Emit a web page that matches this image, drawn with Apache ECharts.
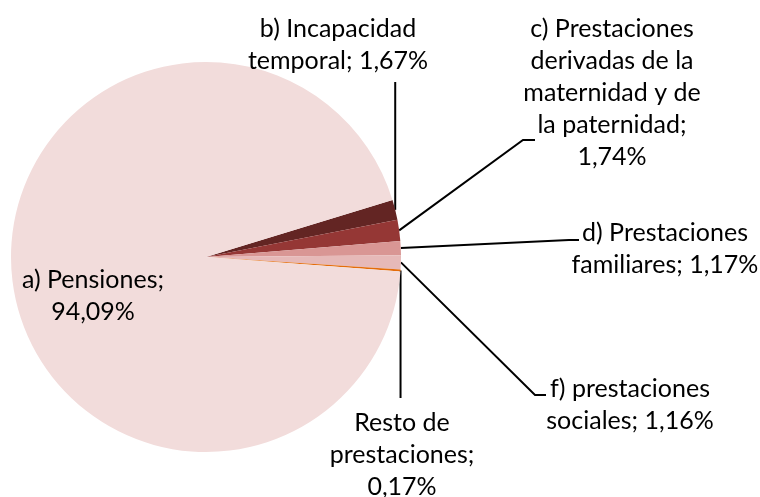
<!DOCTYPE html>
<html>
<head>
<meta charset="utf-8">
<script src="https://cdn.jsdelivr.net/npm/echarts@6/dist/echarts.min.js"></script>
<style>
  html, body { margin: 0; padding: 0; background: #fff; }
  #chart { width: 760px; height: 497px; }
</style>
</head>
<body>
<div id="chart"></div>
<script>
// Distribución del gasto en prestaciones (%)
const categories = [
  'b) Incapacidad temporal',
  'c) Prestaciones derivadas de la maternidad y de la paternidad',
  'd) Prestaciones familiares',
  'f) prestaciones sociales',
  'Resto de prestaciones',
  'a) Pensiones',
];
const values = [1.67, 1.74, 1.17, 1.16, 0.17, 94.09];
const labelTemplates = [
  'b) Incapacidad\ntemporal; {v}',
  'c) Prestaciones\nderivadas de la\nmaternidad y de\nla paternidad;\n{v}',
  'd) Prestaciones\nfamiliares; {v}',
  'f) prestaciones\nsociales; {v}',
  'Resto de\nprestaciones;\n{v}',
  'a) Pensiones;\n{v}',
];
const COLORS = ['#632523', '#953735', '#d99694', '#e6b9b8', '#e46c0a', '#f2dcdb'];

// label centres and leader-line ends (layout only)
const LABEL_POS = [
  { x: 338, y: 45,  endY: 82 },
  { x: 612, y: 93,  bend: [523, 140], end: [535, 140] },
  { x: 665, y: 249, bend: [569, 240], end: [579, 240] },
  { x: 630, y: 405, bend: [535, 395], end: [546, 395] },
  { x: 402, y: 455, endY: 398 },
  { x: 93,  y: 296 },
];

const fmtPct = (v) => v.toFixed(2).replace('.', ',') + '%';

function layoutLabel(params) {
  const pos = LABEL_POS[params.dataIndex];
  const out = { x: pos.x, y: pos.y, align: 'center', verticalAlign: 'middle' };
  const pts = params.labelLinePoints;
  if (pts) {
    const s = pts[0];
    if (pos.endY != null) {
      const e = [s[0], pos.endY];
      out.labelLinePoints = [s, e, e];
    } else if (pos.end) {
      out.labelLinePoints = [s, pos.bend, pos.end];
    }
  }
  return out;
}

const chart = echarts.init(document.getElementById('chart'), null, { renderer: 'canvas' });
chart.setOption({
  backgroundColor: '#fff',
  animation: false,
  series: [{
    type: 'pie',
    center: [206, 257],
    radius: 195,
    startAngle: 17,
    clockwise: true,
    avoidLabelOverlap: false,
    silent: true,
    label: {
      show: true,
      position: 'outside',
      formatter: (p) => labelTemplates[p.dataIndex].replace('{v}', fmtPct(p.value)),
      color: '#000',
      fontFamily: 'Lato',
      fontSize: 25,
      lineHeight: 32,
      align: 'center',
    },
    labelLine: { show: true, length: 10, length2: 10, lineStyle: { color: '#000', width: 2 } },
    labelLayout: layoutLabel,
    data: categories.map((name, i) => ({
      name,
      value: values[i],
      itemStyle: { color: COLORS[i] },
      labelLine: i === 5 ? { show: false } : undefined,
    })),
  }],
});
</script>
</body>
</html>
